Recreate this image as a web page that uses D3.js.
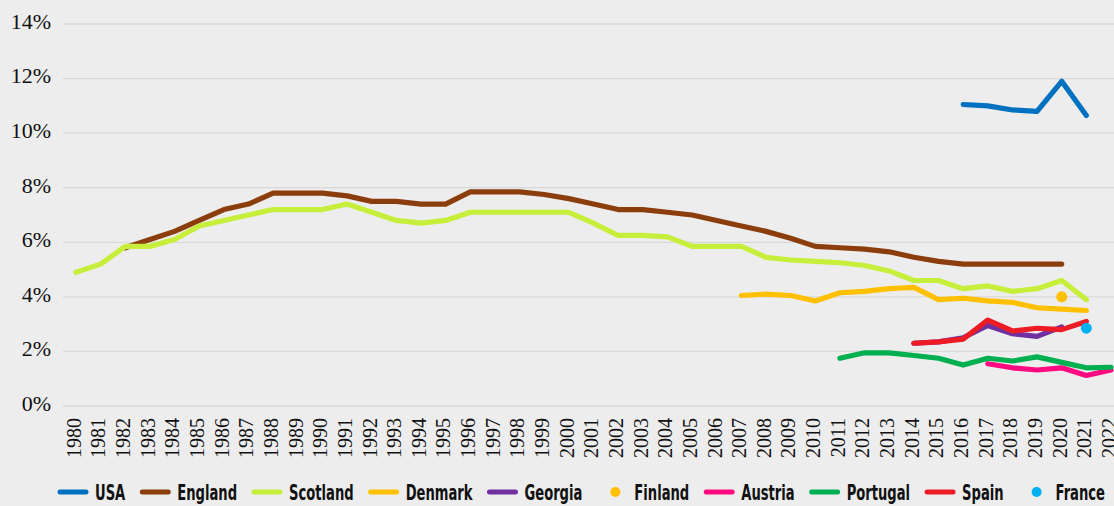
<!DOCTYPE html>
<html>
<head>
<meta charset="utf-8">
<script src="https://cdn.jsdelivr.net/npm/d3@7"></script>
<style>
  html, body { margin: 0; padding: 0; background: #ededed; }
  #chart { width: 1114px; height: 506px; }
  .ytick text { font-family: "Liberation Serif", "Times New Roman", serif; font-size: 22px; fill: #111; }
  .xtick text { font-family: "Liberation Serif", "Times New Roman", serif; font-size: 20px; fill: #111; }
  .legend text { font-family: "DejaVu Sans Condensed", "Liberation Sans", sans-serif; font-weight: bold; font-size: 22px; fill: #111; }
</style>
</head>
<body>
<div id="chart"></div>
<script>
const years = d3.range(1980, 2023);
const yTicks = [0, 2, 4, 6, 8, 10, 12, 14];

// each series: first year + values (percent)
const usaStart = 2016;
const usaValues = [11.05, 11.0, 10.85, 10.8, 11.9, 10.65];
const englandStart = 1982;
const englandValues = [5.8, 6.1, 6.4, 6.8, 7.2, 7.4, 7.8, 7.8, 7.8, 7.7, 7.5, 7.5, 7.4, 7.4, 7.85, 7.85, 7.85, 7.75, 7.6, 7.4,
  7.2, 7.2, 7.1, 7.0, 6.8, 6.6, 6.4, 6.15, 5.85, 5.8, 5.75, 5.65, 5.45, 5.3, 5.2, 5.2, 5.2, 5.2, 5.2];
const scotlandStart = 1980;
const scotlandValues = [4.9, 5.2, 5.85, 5.85, 6.1, 6.6, 6.8, 7.0, 7.2, 7.2, 7.2, 7.4, 7.1, 6.8, 6.7, 6.8, 7.1, 7.1, 7.1, 7.1,
  7.1, 6.7, 6.25, 6.25, 6.2, 5.85, 5.85, 5.85, 5.45, 5.35, 5.3, 5.25, 5.15, 4.95, 4.6, 4.6, 4.3, 4.4, 4.2, 4.3, 4.6, 3.9];
const denmarkStart = 2007;
const denmarkValues = [4.05, 4.1, 4.05, 3.85, 4.15, 4.2, 4.3, 4.35, 3.9, 3.95, 3.85, 3.8, 3.6, 3.55, 3.5];
const georgiaStart = 2014;
const georgiaValues = [2.3, 2.35, 2.5, 2.95, 2.65, 2.55, 2.9];
const finlandStart = 2020;
const finlandValues = [4.0];
const austriaStart = 2017;
const austriaValues = [1.55, 1.4, 1.32, 1.4, 1.12, 1.32];
const portugalStart = 2011;
const portugalValues = [1.75, 1.95, 1.95, 1.85, 1.75, 1.5, 1.75, 1.65, 1.8, 1.6, 1.4, 1.42];
const spainStart = 2014;
const spainValues = [2.3, 2.35, 2.45, 3.15, 2.75, 2.85, 2.8, 3.1];
const franceStart = 2021;
const franceValues = [2.85];

const series = [
  {name: 'USA', color: '#0070c0', start: usaStart, values: usaValues, dot: false},
  {name: 'England', color: '#8b3d0c', start: englandStart, values: englandValues, dot: false},
  {name: 'Scotland', color: '#c6ef3b', start: scotlandStart, values: scotlandValues, dot: false},
  {name: 'Denmark', color: '#ffc000', start: denmarkStart, values: denmarkValues, dot: false},
  {name: 'Georgia', color: '#7030a0', start: georgiaStart, values: georgiaValues, dot: false},
  {name: 'Finland', color: '#ffc000', start: finlandStart, values: finlandValues, dot: true},
  {name: 'Austria', color: '#ff0a80', start: austriaStart, values: austriaValues, dot: false},
  {name: 'Portugal', color: '#00b050', start: portugalStart, values: portugalValues, dot: false},
  {name: 'Spain', color: '#ed1c24', start: spainStart, values: spainValues, dot: false},
  {name: 'France', color: '#00b0f0', start: franceStart, values: franceValues, dot: true}
];

const w = 1114;
const h = 506;

const svg = d3.select('#chart')
  .append('svg')
  .attr('width', w)
  .attr('height', h);

const x = d3.scalePoint()
  .domain(years)
  .range([76, 1111]);

const y = d3.scaleLinear()
  .domain([0, 14])
  .range([406, 24]);

// gridlines + y labels
const yAxis = svg.append('g').attr('class', 'ytick');
yAxis.selectAll('line')
  .data(yTicks)
  .enter()
  .append('line')
  .attr('x1', 63)
  .attr('x2', w)
  .attr('y1', d => y(d))
  .attr('y2', d => y(d))
  .attr('stroke', '#d9d9d9')
  .attr('stroke-width', 1.3);
yAxis.selectAll('text')
  .data(yTicks)
  .enter()
  .append('text')
  .attr('x', 51)
  .attr('y', d => y(d))
  .attr('dy', '0.22em')
  .attr('text-anchor', 'end')
  .text(d => d + '%');

// x labels
svg.append('g')
  .attr('class', 'xtick')
  .selectAll('text')
  .data(years)
  .enter()
  .append('text')
  .attr('transform', d => `translate(${x(d) - 2}, 418) rotate(-90)`)
  .attr('dy', '0.34em')
  .attr('text-anchor', 'end')
  .text(d => d);

const line = d3.line()
  .x(d => x(d.year))
  .y(d => y(d.value));

series.forEach(s => {
  const pts = s.values.map((v, i) => ({year: s.start + i, value: v}));
  if (s.dot) {
    svg.selectAll(null)
      .data(pts)
      .enter()
      .append('circle')
      .attr('cx', d => x(d.year))
      .attr('cy', d => y(d.value))
      .attr('r', 5.5)
      .attr('fill', s.color);
  } else {
    svg.append('path')
      .datum(pts)
      .attr('d', line)
      .attr('fill', 'none')
      .attr('stroke', s.color)
      .attr('stroke-width', 5.2)
      .attr('stroke-linecap', 'round')
      .attr('stroke-linejoin', 'round');
  }
});

// legend: condensed labels squeezed so the row spans the same width as the reference
const legend = svg.append('g').attr('class', 'legend');
const ly = 492;
const legendLeft = 58;
const legendRight = 1105;
const items = series.map(s => {
  const g = legend.append('g');
  const t = g.append('text').attr('y', ly + 8).text(s.name);
  return {s, g, t, natural: t.node().getComputedTextLength()};
});
const symW = 37;   // symbol + gap before text
const gap = 15;    // gap after text
const fixed = items.length * symW + (items.length - 1) * gap;
const squeeze = (legendRight - legendLeft - fixed) / d3.sum(items, d => d.natural);
let lx = legendLeft;
items.forEach(d => {
  const tw = d.natural * squeeze;
  if (d.s.dot) {
    d.g.append('circle')
      .attr('cx', lx + 18)
      .attr('cy', ly)
      .attr('r', 5)
      .attr('fill', d.s.color);
  } else {
    d.g.append('line')
      .attr('x1', lx + 2)
      .attr('x2', lx + 28)
      .attr('y1', ly)
      .attr('y2', ly)
      .attr('stroke', d.s.color)
      .attr('stroke-width', 5)
      .attr('stroke-linecap', 'round');
  }
  d.t.attr('x', lx + symW)
    .attr('textLength', tw)
    .attr('lengthAdjust', 'spacingAndGlyphs');
  lx += symW + tw + gap;
});
</script>
</body>
</html>
